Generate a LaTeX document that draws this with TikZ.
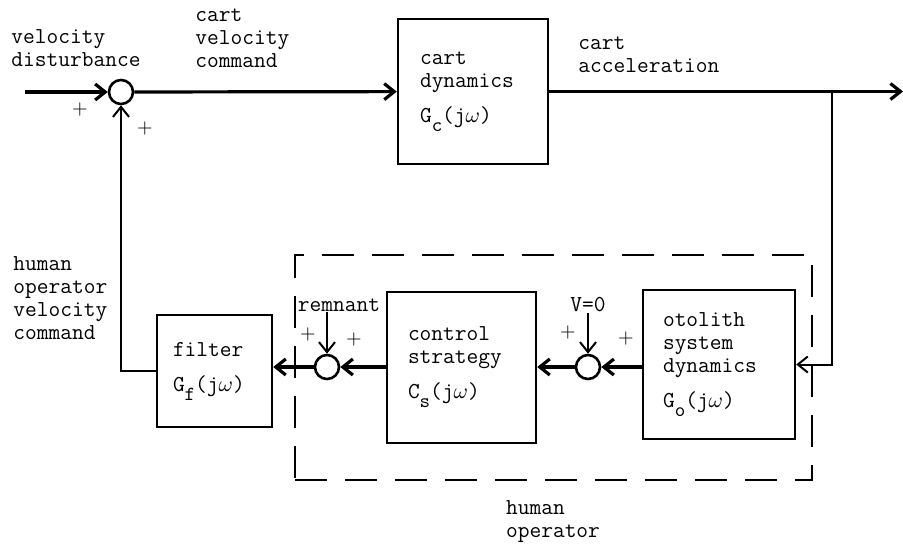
\documentclass[tikz,border=0pt]{standalone}
\usepackage{tikz}
\usetikzlibrary{arrows.meta,positioning}
\newcommand{\lowsub}[1]{\raisebox{-4.5pt}{\fontsize{10}{10}\selectfont #1}}

\begin{document}
\begin{tikzpicture}[
  x=0.5pt, y=-0.5pt,
  font=\ttfamily\fontsize{11.4}{11.5}\selectfont,
  blk/.style={draw, line width=1.2pt, align=left, inner sep=0pt},
  sumj/.style={draw, circle, line width=1.3pt, minimum size=12pt, inner sep=0pt},
  lbl/.style={align=left, inner sep=0pt, anchor=west},
  plus/.style={inner sep=0pt, font=\fontsize{10}{10}\selectfont},
  grp/.style={draw, line width=1.4pt, dash pattern=on 16pt off 9pt,
              minimum width=258.5pt, minimum height=112.5pt, inner sep=0pt},
  arr/.style={-{Straight Barb[length=5pt,width=8pt]}, line width=1.6pt},
  arrthin/.style={-{Straight Barb[length=5pt,width=8pt]}, line width=1pt},
]
  \useasboundingbox (0,0) rectangle (903,546);

  \node[blk, minimum width=75pt, minimum height=72.5pt, text width=53pt] (cart) at (473,91.5)
    {cart\\dynamics\\[6pt]G\lowsub{c}(j$\omega$)};
  \node[blk, minimum width=57.5pt, minimum height=56pt, text width=41.5pt] (filt) at (214.5,371)
    {filter\\[6pt]G\lowsub{f}(j$\omega$)};
  \node[blk, minimum width=74.5pt, minimum height=75.5pt, text width=53.5pt] (ctrl) at (461.5,367.5)
    {control\\strategy\\[6pt]C\lowsub{s}(j$\omega$)};
  \node[blk, minimum width=76pt, minimum height=74.5pt, text width=56pt] (oto) at (719,364.5)
    {otolith\\system\\dynamics\\[6pt]G\lowsub{o}(j$\omega$)};

  \node[sumj] (s1) at (121,92) {};
  \node[sumj] (s2) at (327,367) {};
  \node[sumj] (s3) at (588,367) {};

  \node[grp] (hum) at (553.5,367.5) {};
  \node[align=left, inner sep=0pt] (hlab) at (553,522) {human\\operator};

  % signal labels
  \node[lbl] (vdist) at (11,48) {velocity\\disturbance};
  \node[lbl] (cvc) at (195,38) {cart\\velocity\\command};
  \node[lbl] (cacc) at (578,55) {cart\\acceleration};
  \node[lbl] (hovc) at (13,298) {human\\operator\\velocity\\command};
  \node[inner sep=0pt] (rem) at (339,305) {remnant};
  \node[inner sep=0pt] (vz) at (588,305) {V=0};

  \node[plus] (p1) at (80,109) {$\mathbf{+}$};
  \node[plus] (p2) at (145,128) {$\mathbf{+}$};
  \node[plus] (p3) at (308,334) {$\mathbf{+}$};
  \node[plus] (p4) at (354,339) {$\mathbf{+}$};
  \node[plus] (p5) at (568,332) {$\mathbf{+}$};
  \node[plus] (p6) at (626,338) {$\mathbf{+}$};

  \coordinate (in) at (25,92);
  \coordinate (out) at (903,91.5);
  \coordinate (tap) at (832,91.5);

  \draw[arr] (in) -- (s1);
  \draw[arr] (s1) -- (cart);
  \draw[arr] (cart.east) -- (out);
  \draw[arrthin] (tap) |- (oto.east);
  \draw[arr] (oto.west |- s3) -- (s3);
  \draw[arr] (s3) -- (s3 -| ctrl.east);
  \draw[arr] (ctrl.west |- s2) -- (s2);
  \draw[arr] (s2) -- (s2 -| filt.east);
  \draw[arrthin] (filt.west) -| (s1.south);
  \draw[arrthin] (s2 |- rem.south) -- (s2.north);
  \draw[arrthin] (vz.south) -- (s3.north);
\end{tikzpicture}
\end{document}
